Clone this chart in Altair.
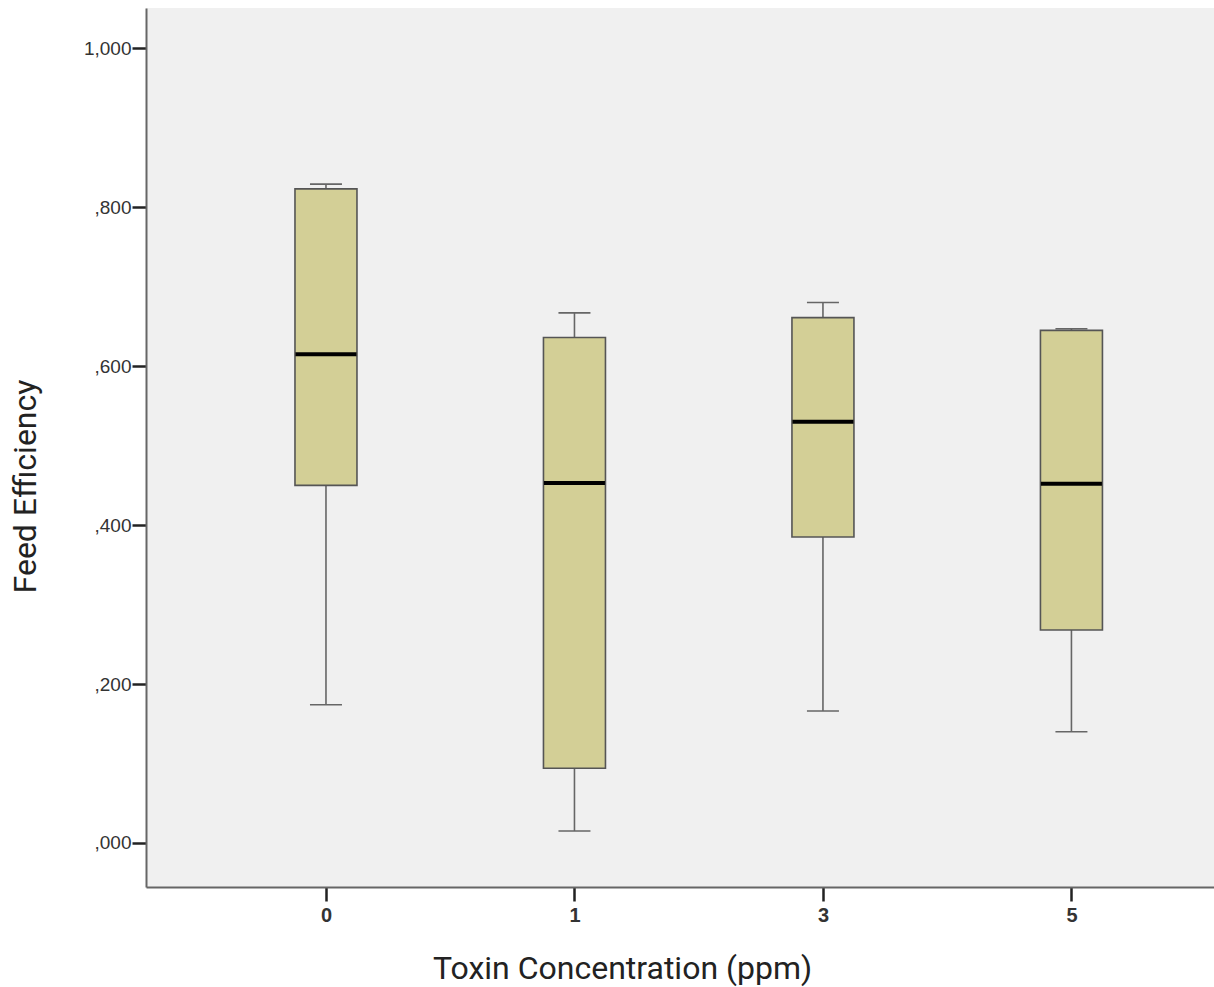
import altair as alt
import pandas as pd

groups = ["0", "1", "3", "5"]
lower = [0.174, 0.015, 0.166, 0.140]
q1 = [0.450, 0.094, 0.385, 0.268]
median = [0.615, 0.453, 0.530, 0.452]
q3 = [0.823, 0.636, 0.661, 0.645]
upper = [0.829, 0.667, 0.680, 0.647]

df = pd.DataFrame({"group": groups, "lower": lower, "q1": q1,
                   "median": median, "q3": q3, "upper": upper})

xscale = alt.Scale(type="point", domain=groups, padding=0.649, align=0.558)
yscale = alt.Scale(domain=[-0.0554, 1.0506], nice=False, zero=False)

x = alt.X("group:N", scale=xscale, sort=groups,
          axis=alt.Axis(title="Toxin Concentration (ppm)", labelAngle=0,
                        labelFont="Liberation Sans", labelFontSize=20,
                        labelFontWeight="bold",
                        labelColor="#333", labelPadding=4,
                        tickSize=14, tickWidth=2.5, tickColor="#222",
                        domainColor="#666", domainWidth=2,
                        titleFont="Roboto", titleFontSize=32,
                        titleFontWeight="normal", titleColor="#222",
                        titleX=476, titleY=81, titleBaseline="middle",
                        titleAnchor="start", titleAlign="center"))

yaxis = alt.Axis(title="Feed Efficiency", values=[0, 0.2, 0.4, 0.6, 0.8, 1.0],
                 labelExpr="replace(replace(format(datum.value, '.3f'), '0.', ','), '.', ',')",
                 labelFont="Liberation Sans", labelFontSize=19, labelColor="#333",
                 labelPadding=1, tickSize=14, tickWidth=2.5, tickColor="#222",
                 domainColor="#666", domainWidth=2, grid=False,
                 titleFont="Roboto", titleFontSize=32, titleFontWeight="normal",
                 titleColor="#222", titleAngle=-90, titleX=-121, titleY=478,
                 titleBaseline="middle", titleAlign="center")

base = alt.Chart(df)

whisk_lo = base.mark_rule(color="#666", strokeWidth=1.6).encode(
    x=x, y=alt.Y("lower:Q", scale=yscale, axis=yaxis), y2="q1:Q")
whisk_hi = base.mark_rule(color="#666", strokeWidth=1.6).encode(
    x=x, y=alt.Y("q3:Q", scale=yscale), y2="upper:Q")
cap_lo = base.mark_tick(color="#666", size=32, thickness=1.6, opacity=1,
                        orient="horizontal").encode(
    x=x, y=alt.Y("lower:Q", scale=yscale))
cap_hi = base.mark_tick(color="#666", size=32, thickness=1.6, opacity=1,
                        orient="horizontal").encode(
    x=x, y=alt.Y("upper:Q", scale=yscale))
box = base.mark_bar(size=62, color="#d3cf96", stroke="#555", strokeWidth=1.6,
                    opacity=1).encode(
    x=x, y=alt.Y("q1:Q", scale=yscale), y2="q3:Q")
med = base.mark_tick(color="#000", size=61, thickness=4, opacity=1,
                     orient="horizontal").encode(
    x=x, y=alt.Y("median:Q", scale=yscale))

chart = alt.layer(whisk_lo, whisk_hi, cap_lo, cap_hi, box, med).properties(
    width=1068, height=879,
    padding={"left": 146, "top": 8, "right": 0, "bottom": 100},
    autosize=alt.AutoSizeParams(type="none"),
    background="white",
).configure_view(fill="#f0f0f0", stroke=None)

chart.save("out.html", embed_options={"renderer": "svg", "actions": False})
